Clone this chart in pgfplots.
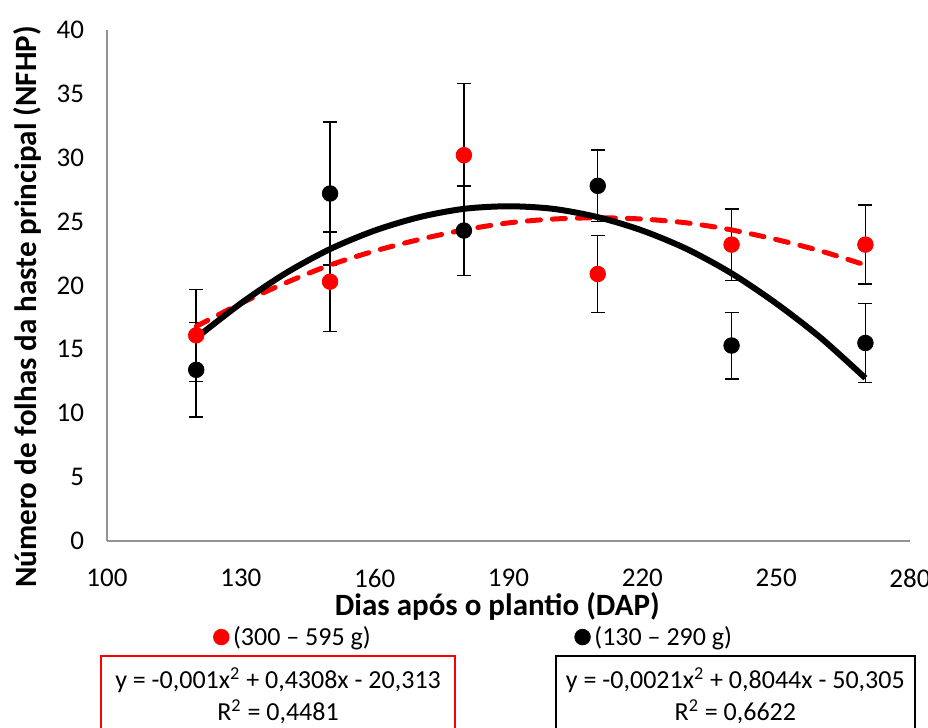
\documentclass[border=0pt]{standalone}
\usepackage{fontspec}
\setmainfont{Carlito}
\usepackage{pgfplots}
\pgfplotsset{compat=1.18}

\begin{document}
\begin{tikzpicture}
\begin{axis}[
    scale only axis,
    width=401.5pt, height=255.5pt,
    xmin=100, xmax=280, ymin=0, ymax=40,
    xtick={100,130,...,280}, ytick={0,5,...,40},
    axis x line=bottom, axis y line=left,
    axis line style={-, draw=gray!85, line width=0.8pt},
    major tick length=0pt,
    /pgf/number format/assume math mode=true,
    tick label style={font=\fontsize{13.5}{16}\selectfont},
    xticklabel style={anchor=center, yshift=-18.5pt},
    yticklabel style={anchor=east, xshift=-8pt},
    xlabel={Dias após o plantio (DAP)},
    ylabel={Número de folhas da haste principal (NFHP)},
    label style={font=\fontsize{15.5}{18}\selectfont\bfseries},
    xlabel style={at={(rel axis cs:0.486,-0.129)}, anchor=center},
    ylabel style={at={(rel axis cs:-0.0996,0.458)}, anchor=center},
    clip=false,
    legend columns=2,
    legend style={at={(rel axis cs:0.458,-0.188)}, anchor=center, draw=none,
        font=\fontsize{13}{15}\selectfont, inner sep=0pt,
        /tikz/every even column/.append style={column sep=100pt}},
    legend cell align=left,
]
% (300 – 595 g)
\addplot[only marks, mark=*, mark size=3.9pt, color=red,
    error bars/.cd, y dir=both, y explicit,
    error bar style={black, line width=0.75pt},
    error mark options={rotate=90, mark size=3.5pt, black, line width=0.75pt}]
    coordinates {
    (120,16.1) +- (0,3.6)
    (150,20.3) +- (0,3.9)
    (180,30.2) +- (0,5.6)
    (210,20.9) +- (0,3.0)
    (240,23.2) +- (0,2.8)
    (270,23.2) +- (0,3.1)
};
\addlegendentry{(300 – 595 g)}

% (130 – 290 g)
\addplot[only marks, mark=*, mark size=3.9pt, color=black,
    error bars/.cd, y dir=both, y explicit,
    error bar style={black, line width=0.75pt},
    error mark options={rotate=90, mark size=3.5pt, black, line width=0.75pt}]
    coordinates {
    (120,13.4) +- (0,3.7)
    (150,27.2) +- (0,5.6)
    (180,24.3) +- (0,3.5)
    (210,27.8) +- (0,2.8)
    (240,15.3) +- (0,2.6)
    (270,15.5) +- (0,3.1)
};
\addlegendentry{(130 – 290 g)}

% trend lines
\addplot[forget plot, red, line width=2.5pt, line cap=round,
    dash pattern=on 6.5pt off 6pt, smooth] coordinates {
    (120,16.8) (130,18.6) (140,20.2) (150,21.6) (160,22.7) (170,23.6)
    (180,24.35) (190,24.9) (200,25.2) (210,25.3) (220,25.2) (230,24.9)
    (240,24.35) (250,23.6) (260,22.7) (270,21.6)
};
\addplot[forget plot, black, line width=3pt, smooth] coordinates {
    (120,15.9) (130,18.6) (140,20.95) (150,22.85) (160,24.3) (170,25.35)
    (180,26.0) (190,26.2) (200,26.0) (210,25.35) (220,24.3) (230,22.85)
    (240,20.95) (250,18.6) (260,15.9) (270,12.75)
};

% equation boxes
\draw[red, line width=1pt] (rel axis cs:-0.0075,-0.225) rectangle (rel axis cs:0.4334,-0.372);
\draw[black, line width=1pt] (rel axis cs:0.5592,-0.225) rectangle (rel axis cs:1.0062,-0.372);
\node[font=\fontsize{13}{15}\selectfont] at (rel axis cs:0.213,-0.272) {y = -0,001x\textsuperscript{2} + 0,4308x - 20,313};
\node[font=\fontsize{13}{15}\selectfont] at (rel axis cs:0.213,-0.3346) {R\textsuperscript{2} = 0,4481};
\node[font=\fontsize{13}{15}\selectfont] at (rel axis cs:0.7825,-0.272) {y = -0,0021x\textsuperscript{2} + 0,8044x - 50,305};
\node[font=\fontsize{13}{15}\selectfont] at (rel axis cs:0.7825,-0.3346) {R\textsuperscript{2} = 0,6622};

\coordinate (bbA) at (rel axis cs:-0.13325,1.0587);
\coordinate (bbB) at (rel axis cs:1.0224,-0.364);
\end{axis}
\pgfresetboundingbox
\path[use as bounding box] (bbA) rectangle (bbB);
\end{tikzpicture}
\end{document}
